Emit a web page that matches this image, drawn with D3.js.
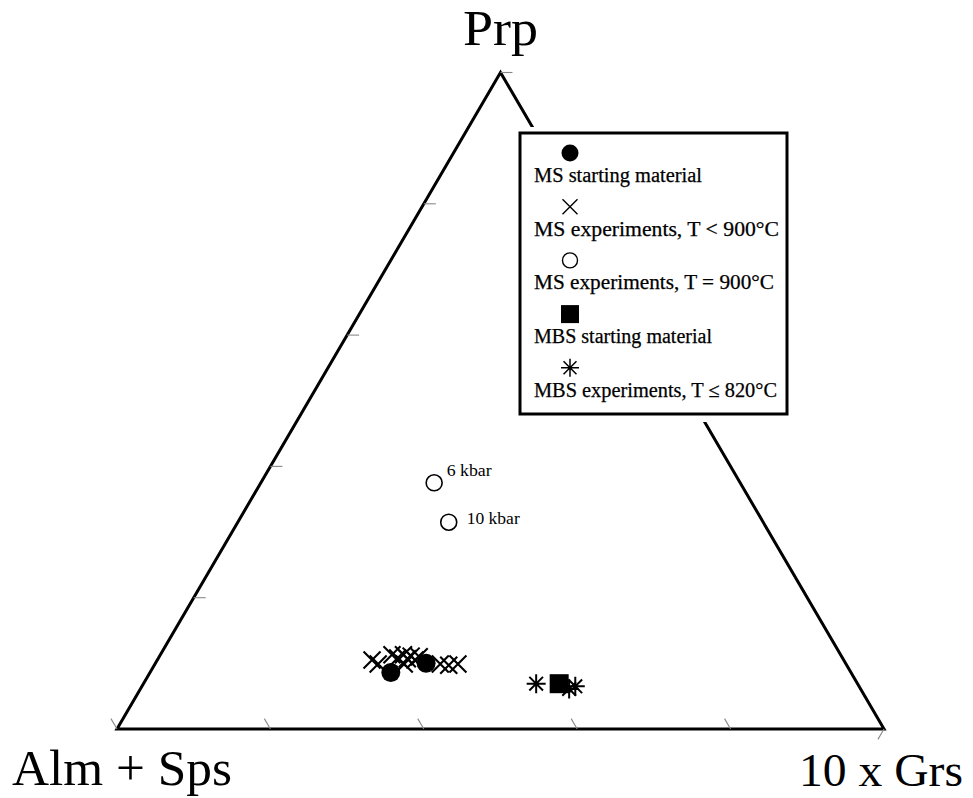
<!DOCTYPE html>
<html>
<head>
<meta charset="utf-8">
<script src="https://cdn.jsdelivr.net/npm/d3@7"></script>
<style>
  html, body { margin: 0; padding: 0; background: #fff; }
  svg { display: block; }
  text { font-family: "Liberation Serif", "Times New Roman", serif; fill: #000; }
</style>
</head>
<body>
<svg id="chart" width="973" height="798"></svg>
<script>
// ---- data: compositions as [Prp, Alm+Sps, 10xGrs] (percent) ----
const msStarting = [[8.6, 60.0, 31.4], [10.0, 54.7, 35.3]];
const msExpLow = [
  [10.5, 61.5, 28.0], [9.9, 61.0, 29.1], [11.3, 58.5, 30.2], [10.8, 58.0, 31.2],
  [11.3, 57.0, 31.7], [10.7, 56.8, 32.5], [11.1, 56.1, 32.8], [10.5, 55.9, 33.6],
  [11.0, 55.1, 33.9], [9.9, 57.6, 32.5], [9.9, 52.9, 37.2], [9.7, 51.9, 38.4],
  [9.9, 50.6, 39.5]
];
const msExp900 = [[37.5, 39.9, 22.6], [31.5, 41.0, 27.5]];
const msExp900Labels = ["6 kbar", "10 kbar"];
const mbsStarting = [[6.9, 38.9, 54.2]];
const mbsExp = [[6.9, 41.9, 51.2], [6.1, 38.0, 55.9], [6.5, 37.0, 56.5]];
const legendLabels = [
  "MS starting material",
  "MS experiments, T < 900\u00B0C",
  "MS experiments, T = 900\u00B0C",
  "MBS starting material",
  "MBS experiments, T \u2264 820\u00B0C"
];
const legendWidths = [168, 245, 240, 178, 243];
const axisLabels = ["Prp", "Alm + Sps", "10 x Grs"];
const tickValuesLeft = [20, 40, 60, 80, 100];
const tickValuesBottom = [20, 40, 60, 80, 100];
const tickValuesRight = [100];

// ---- scales ----
const svg = d3.select("#chart");
const xScale = d3.scaleLinear().domain([0, 100]).range([117, 884]);   // Grs + Prp/2
const yScale = d3.scaleLinear().domain([0, 100]).range([729, 72.5]);  // Prp
const pos = d => [xScale(d[2] + d[0] / 2), yScale(d[0])];

const Lv = pos([0, 100, 0]), Rv = pos([0, 0, 100]), Tv = pos([100, 0, 0]);

// ---- triangle ----
svg.append("path")
  .attr("d", d3.line()([Lv, Rv, Tv, Lv]) + "Z")
  .attr("fill", "none").attr("stroke", "#000").attr("stroke-width", 3)
  .attr("stroke-linejoin", "miter");

// ---- ticks ----
const tickLen = 12;
function unit(a, b) { const dx = b[0] - a[0], dy = b[1] - a[1], l = Math.hypot(dx, dy); return [dx / l, dy / l]; }
const dirLeft = [1, 0];
const dirBottom = unit(Rv, Tv);
const dirRight = unit(Tv, Lv);
const ticks = [];
tickValuesLeft.forEach(v => ticks.push({p: pos([v, 100 - v, 0]), d: dirLeft}));
tickValuesBottom.forEach(v => ticks.push({p: pos([0, v, 100 - v]), d: dirBottom}));
tickValuesRight.forEach(v => ticks.push({p: pos([100 - v, 0, v]), d: dirRight}));
svg.append("g").selectAll("line").data(ticks).join("line")
  .attr("x1", t => t.p[0]).attr("y1", t => t.p[1])
  .attr("x2", t => t.p[0] + t.d[0] * tickLen).attr("y2", t => t.p[1] + t.d[1] * tickLen)
  .attr("stroke", "#888").attr("stroke-width", 1.1);

// ---- marker shapes ----
function crossPath(s) { return `M${-s},${-s}L${s},${s}M${-s},${s}L${s},${-s}`; }
function starPath(s) {
  const k = s * 0.72;
  return `M${-s},0L${s},0M0,${-s}L0,${s}M${-k},${-k}L${k},${k}M${-k},${k}L${k},${-k}`;
}

const g = svg.append("g");
g.selectAll(".x").data(msExpLow).join("path").attr("class", "x")
  .attr("transform", d => `translate(${pos(d)})`)
  .attr("d", crossPath(8.5)).attr("stroke", "#000").attr("stroke-width", 2.1).attr("fill", "none");
g.selectAll(".fc").data(msStarting).join("circle").attr("class", "fc")
  .attr("cx", d => pos(d)[0]).attr("cy", d => pos(d)[1]).attr("r", 9.5).attr("fill", "#000");
g.selectAll(".oc").data(msExp900).join("circle").attr("class", "oc")
  .attr("cx", d => pos(d)[0]).attr("cy", d => pos(d)[1]).attr("r", 8)
  .attr("fill", "#fff").attr("stroke", "#000").attr("stroke-width", 1.6);
g.selectAll(".ocl").data(msExp900).join("text").attr("class", "ocl")
  .attr("x", (d, i) => pos(d)[0] + (i === 0 ? 12.5 : 18))
  .attr("y", (d, i) => pos(d)[1] + (i === 0 ? -7 : 2))
  .attr("font-size", 17)
  .attr("textLength", (d, i) => i === 0 ? 45 : 53).attr("lengthAdjust", "spacingAndGlyphs")
  .text((d, i) => msExp900Labels[i]);
g.selectAll(".sq").data(mbsStarting).join("rect").attr("class", "sq")
  .attr("x", d => pos(d)[0] - 9.5).attr("y", d => pos(d)[1] - 9.5)
  .attr("width", 19).attr("height", 19).attr("fill", "#000");
g.selectAll(".st").data(mbsExp).join("path").attr("class", "st")
  .attr("transform", d => `translate(${pos(d)})`)
  .attr("d", starPath(9.5)).attr("stroke", "#000").attr("stroke-width", 2).attr("fill", "none");

// ---- legend ----
const lg = svg.append("g");
lg.append("rect").attr("x", 514).attr("y", 127).attr("width", 280).attr("height", 295).attr("fill", "#fff");
lg.append("rect").attr("x", 520).attr("y", 133).attr("width", 267).attr("height", 281)
  .attr("fill", "#fff").attr("stroke", "#000").attr("stroke-width", 3);
const legY0 = 153, legStep = 53.7, mx = 570, tx = 534;
const items = lg.selectAll(".item").data(legendLabels).join("g").attr("class", "item")
  .attr("transform", (d, i) => `translate(0,${legY0 + i * legStep})`);
items.append("text").attr("x", tx).attr("y", 29).attr("font-size", 20)
  .attr("stroke", "#000").attr("stroke-width", 0.25)
  .attr("textLength", (d, i) => legendWidths[i]).attr("lengthAdjust", "spacingAndGlyphs")
  .text(d => d);
items.each(function(d, i) {
  const s = d3.select(this);
  if (i === 0) s.append("circle").attr("cx", mx).attr("cy", 0).attr("r", 8.5).attr("fill", "#000");
  if (i === 1) s.append("path").attr("transform", `translate(${mx},0)`).attr("d", crossPath(7.5))
    .attr("stroke", "#000").attr("stroke-width", 1.4).attr("fill", "none");
  if (i === 2) s.append("circle").attr("cx", mx).attr("cy", 0).attr("r", 7.5)
    .attr("fill", "none").attr("stroke", "#000").attr("stroke-width", 1.4);
  if (i === 3) s.append("rect").attr("x", mx - 9).attr("y", -9).attr("width", 18).attr("height", 18).attr("fill", "#000");
  if (i === 4) s.append("path").attr("transform", `translate(${mx},0)`).attr("d", starPath(9))
    .attr("stroke", "#000").attr("stroke-width", 1.5).attr("fill", "none");
});

// ---- vertex labels ----
svg.append("text").attr("x", 463).attr("y", 45).attr("font-size", 50)
  .attr("textLength", 75).attr("lengthAdjust", "spacingAndGlyphs").text(axisLabels[0]);
svg.append("text").attr("x", 12).attr("y", 785).attr("font-size", 50)
  .attr("textLength", 220).attr("lengthAdjust", "spacingAndGlyphs").text(axisLabels[1]);
svg.append("text").attr("x", 799).attr("y", 786).attr("font-size", 46)
  .attr("textLength", 164).attr("lengthAdjust", "spacingAndGlyphs").text(axisLabels[2]);
</script>
</body>
</html>
